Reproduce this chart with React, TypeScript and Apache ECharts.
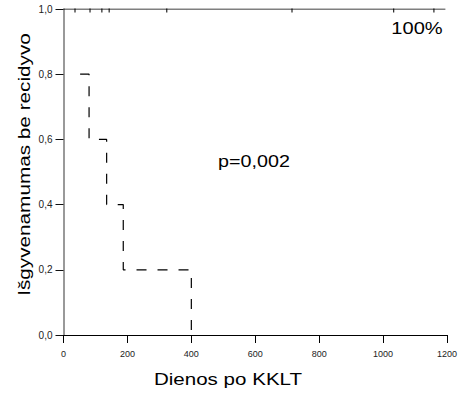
import React, { useEffect, useRef } from "react";
import * as echarts from "echarts";

const xTicks = [0, 200, 400, 600, 800, 1000, 1200];
const yTicks = [0, 0.2, 0.4, 0.6, 0.8, 1.0];
// Group 1: no events, survival stays at 100%
const group1Line: [number, number][] = [
  [0, 1.0],
  [1195, 1.0],
];
const group1Censored = [36, 83, 120, 143, 323, 715, 1033, 1159];
// Group 2: Kaplan-Meier steps (time, survival)
const group2Times = [52, 80, 80, 135, 135, 187, 187, 400, 400];
const group2Surv = [0.8, 0.8, 0.6, 0.6, 0.4, 0.4, 0.2, 0.2, 0.0];

const yName = "Išgyvenamumas be recidyvo";
const xName = "Dienos po KKLT";
const pText = "p=0,002";
const g1Label = "100%";

export default function App() {
  const ref = useRef<HTMLDivElement>(null);
  useEffect(() => {
    if (!ref.current) return;
    const chart = echarts.init(ref.current, null, { renderer: "svg" });
    const font = "17px 'Liberation Sans', Arial, sans-serif";
    chart.setOption({
      animation: false,
      backgroundColor: "#ffffff",
      grid: { left: 63.5, right: 14, top: 9, bottom: 61 },
      xAxis: {
        type: "value",
        min: xTicks[0],
        max: xTicks[xTicks.length - 1],
        interval: 200,
        splitLine: { show: false },
        axisLine: { onZero: false, lineStyle: { color: "#000", width: 1 } },
        axisTick: { show: true, length: 8, lineStyle: { color: "#000" } },
        axisLabel: {
          color: "#222",
          fontSize: 9,
          margin: 14,
          fontFamily: "'Liberation Sans', Arial, sans-serif",
          formatter: (v: number) => String(v),
        },
      },
      yAxis: {
        type: "value",
        min: yTicks[0],
        max: yTicks[yTicks.length - 1],
        interval: 0.2,
        splitLine: { show: false },
        axisLine: { lineStyle: { color: "#777", width: 1.5 } },
        axisTick: { show: true, length: 8, lineStyle: { color: "#111" } },
        axisLabel: {
          color: "#222",
          fontSize: 10,
          margin: 11,
          fontFamily: "'Liberation Sans', Arial, sans-serif",
          formatter: (v: number) => v.toFixed(1).replace(".", ","),
        },
      },
      series: [
        {
          type: "line",
          data: group1Line,
          symbol: "none",
          lineStyle: { color: "#000", width: 1 },
          z: 3,
        },
        {
          type: "scatter",
          data: group1Censored.map((t) => [t, 1.0]),
          symbol: "rect",
          symbolSize: [1.3, 4],
          symbolOffset: [0, 1.5],
          itemStyle: { color: "#000" },
          z: 4,
        },
        {
          type: "line",
          data: group2Times.map((t, i) => [t, group2Surv[i]]),
          symbol: "none",
          lineStyle: { color: "#000", width: 1.2, type: [10, 11] },
          z: 3,
        },
      ],
      graphic: [
        {
          type: "text",
          x: 24,
          y: 164.5,
          rotation: Math.PI / 2,
          scaleX: 1.22,
          style: {
            text: yName,
            font,
            fill: "#000",
            align: "center",
            verticalAlign: "middle",
          },
        },
        {
          type: "text",
          x: 228,
          y: 379,
          scaleX: 1.21,
          style: {
            text: xName,
            font,
            fill: "#000",
            align: "center",
            verticalAlign: "middle",
          },
        },
        {
          type: "text",
          x: 254,
          y: 161,
          scaleX: 1.16,
          style: {
            text: pText,
            font,
            fill: "#000",
            align: "center",
            verticalAlign: "middle",
          },
        },
        {
          type: "text",
          x: 417,
          y: 28,
          scaleX: 1.18,
          style: {
            text: g1Label,
            font,
            fill: "#000",
            align: "center",
            verticalAlign: "middle",
          },
        },
      ],
    });
    return () => chart.dispose();
  }, []);
  return (
    <div
      ref={ref}
      style={{ position: "absolute", left: 0, top: 0, width: 461, height: 396 }}
    />
  );
}
